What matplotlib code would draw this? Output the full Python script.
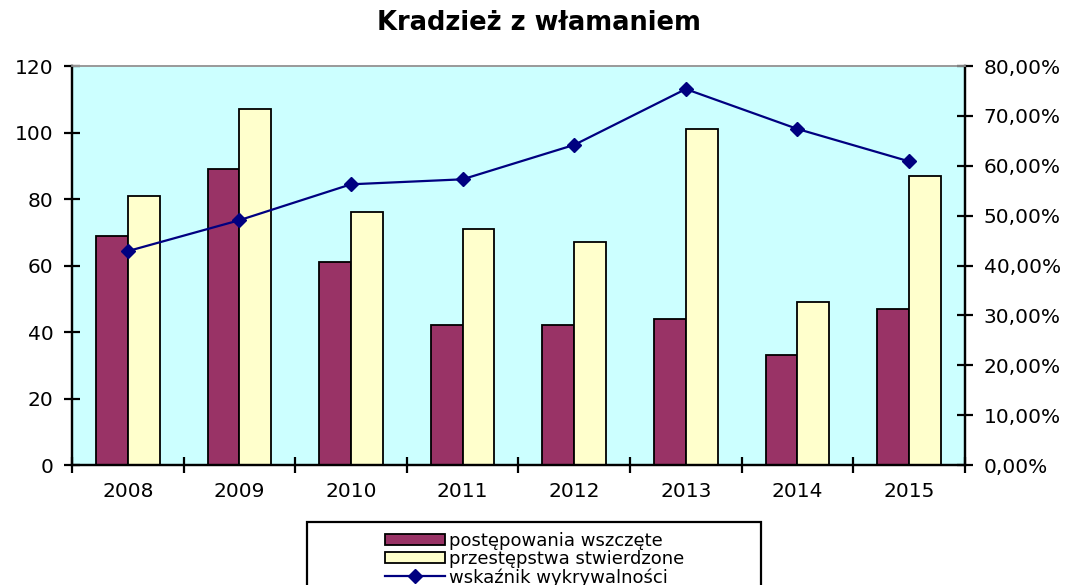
import matplotlib.pyplot as plt
import numpy as np
from matplotlib.patches import Rectangle
from matplotlib.ticker import FuncFormatter

plt.rcParams['font.family'] = ['DejaVu Sans']

# data
years = ['2008', '2009', '2010', '2011', '2012', '2013', '2014', '2015']
wszczete = [69, 89, 61, 42, 42, 44, 33, 47]
stwierdzone = [81, 107, 76, 71, 67, 101, 49, 87]
wskaznik = [42.9, 49.1, 56.3, 57.3, 64.2, 75.4, 67.4, 60.9]

fig = plt.figure(figsize=(10.78, 5.85), dpi=100)
ax = fig.add_axes([0.0668, 0.205, 0.8282, 0.682])
ax.set_facecolor('#CCFFFF')

x = np.arange(len(years))
w = 0.285
b1 = ax.bar(x - w / 2, wszczete, w, color='#993366', edgecolor='black', linewidth=1.3)
b2 = ax.bar(x + w / 2, stwierdzone, w, color='#FFFFCC', edgecolor='black', linewidth=1.3)
ax.set_xlim(-0.5, len(years) - 0.5)
ax.set_ylim(0, 120)
ax.set_yticks(range(0, 121, 20))

# ticks at category borders, labels in the middle
ax.set_xticks(np.arange(-0.5, len(years), 1.0))
ax.set_xticklabels([])
ax.set_xticks(x, minor=True)
ax.set_xticklabels(years, minor=True)
ax.tick_params(axis='x', which='minor', length=0, pad=12, labelsize=14.5)
ax.tick_params(axis='x', which='major', direction='inout', length=11, width=1.6)
ax.tick_params(axis='y', direction='inout', length=11, width=1.6, labelsize=14.5, pad=8)

ax2 = ax.twinx()
line, = ax2.plot(x, wskaznik, color='#000080', marker='D', markersize=7.5, linewidth=1.6)
ax2.set_ylim(0, 80)
ax2.set_yticks(range(0, 81, 10))
ax2.yaxis.set_major_formatter(FuncFormatter(lambda v, p: ('%.2f%%' % v).replace('.', ',')))
ax2.tick_params(axis='y', direction='inout', length=11, width=1.6, labelsize=14.5, pad=8)

for a in (ax, ax2):
    a.spines['top'].set_color('#999999')
    a.spines['top'].set_linewidth(1.2)
    for s in ('left', 'right', 'bottom'):
        a.spines[s].set_linewidth(1.6)

fig.text(0.5, 1 - 23 / 585, 'Kradzież z włamaniem', fontsize=18.5, fontweight='bold',
         ha='center', va='center')

# legend box
fig.patches.append(Rectangle((307 / 1078, -0.05), 454 / 1078, 1 - 522 / 585 + 0.05,
                             transform=fig.transFigure, facecolor='white',
                             edgecolor='black', linewidth=1.6))
fig.legend([b1, b2, line], ['postępowania wszczęte', 'przestępstwa stwierdzone',
                             'wskaźnik wykrywalności'],
           loc='upper center', bbox_to_anchor=(0.496, 1 - 523 / 585),
           frameon=False, fontsize=13, handlelength=3.3, handleheight=0.6,
           labelspacing=0.0, handletextpad=0.25, borderpad=0.0)

fig.savefig('out.png', dpi=100)
